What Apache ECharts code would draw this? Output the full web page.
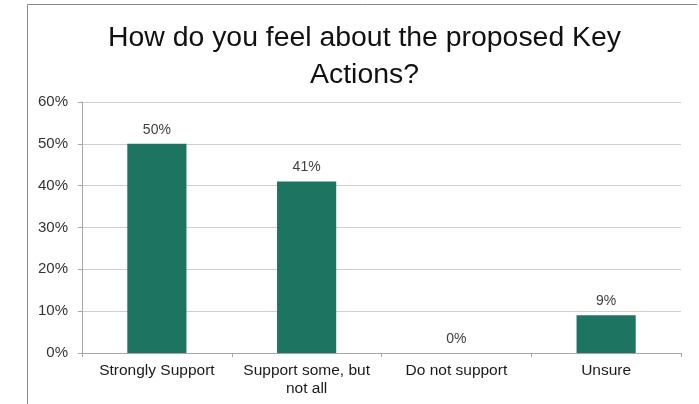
<!DOCTYPE html>
<html>
<head>
<meta charset="utf-8">
<script src="https://cdn.jsdelivr.net/npm/echarts@6/dist/echarts.min.js"></script>
<style>
  html, body { margin: 0; padding: 0; background: #ffffff; }
  #chart { width: 699px; height: 404px; }
</style>
</head>
<body>
<div id="chart"></div>
<script>
// Survey responses (percent of respondents)
var categories = ['Strongly Support', 'Support some, but\nnot all', 'Do not support', 'Unsure'];
var responsePct = [50, 41, 0, 9];
var yTicks = [0, 10, 20, 30, 40, 50, 60];

var chart = echarts.init(document.getElementById('chart'), null, { renderer: 'canvas' });

var font = '"Liberation Sans", Arial, sans-serif';

chart.setOption({
  backgroundColor: '#ffffff',
  animation: false,
  title: {
    text: 'How do you feel about the proposed Key\nActions?',
    left: 359.5,
    top: 15,
    textAlign: 'center',
    textStyle: {
      fontFamily: font,
      fontSize: 28.4,
      fontWeight: 'normal',
      color: '#111111',
      lineHeight: 37
    }
  },
  graphic: [{
    type: 'polyline',
    shape: { points: [[697, 4.5], [27.5, 4.5], [27.5, 404]] },
    style: { stroke: '#8a8a8a', lineWidth: 1, fill: null },
    silent: true
  }],
  grid: { left: 82, right: 18, top: 102, bottom: 51 },
  xAxis: {
    type: 'category',
    data: categories,
    axisLine: { lineStyle: { color: '#a6a6a6', width: 1 } },
    axisTick: { show: true, alignWithLabel: false, length: 4, lineStyle: { color: '#a6a6a6' } },
    axisLabel: {
      fontFamily: font,
      fontSize: 15.5,
      color: '#1a1a1a',
      margin: 9,
      lineHeight: 18,
      interval: 0
    }
  },
  yAxis: {
    type: 'value',
    min: yTicks[0],
    max: yTicks[yTicks.length - 1],
    interval: 10,
    axisLine: { show: true, lineStyle: { color: '#a6a6a6', width: 1 } },
    axisTick: { show: true, length: 4, lineStyle: { color: '#a6a6a6' } },
    axisLabel: {
      fontFamily: font,
      fontSize: 15,
      color: '#333333',
      margin: 14,
      formatter: '{value}%'
    },
    splitLine: { show: true, lineStyle: { color: '#cfcfcf', width: 1 } }
  },
  series: [{
    type: 'bar',
    data: responsePct,
    barWidth: '39.5%',
    itemStyle: { color: '#1d7460' },
    label: {
      show: true,
      position: 'top',
      distance: 7,
      formatter: '{c}%',
      fontFamily: font,
      fontSize: 14,
      color: '#404040'
    }
  }]
});
</script>
</body>
</html>
